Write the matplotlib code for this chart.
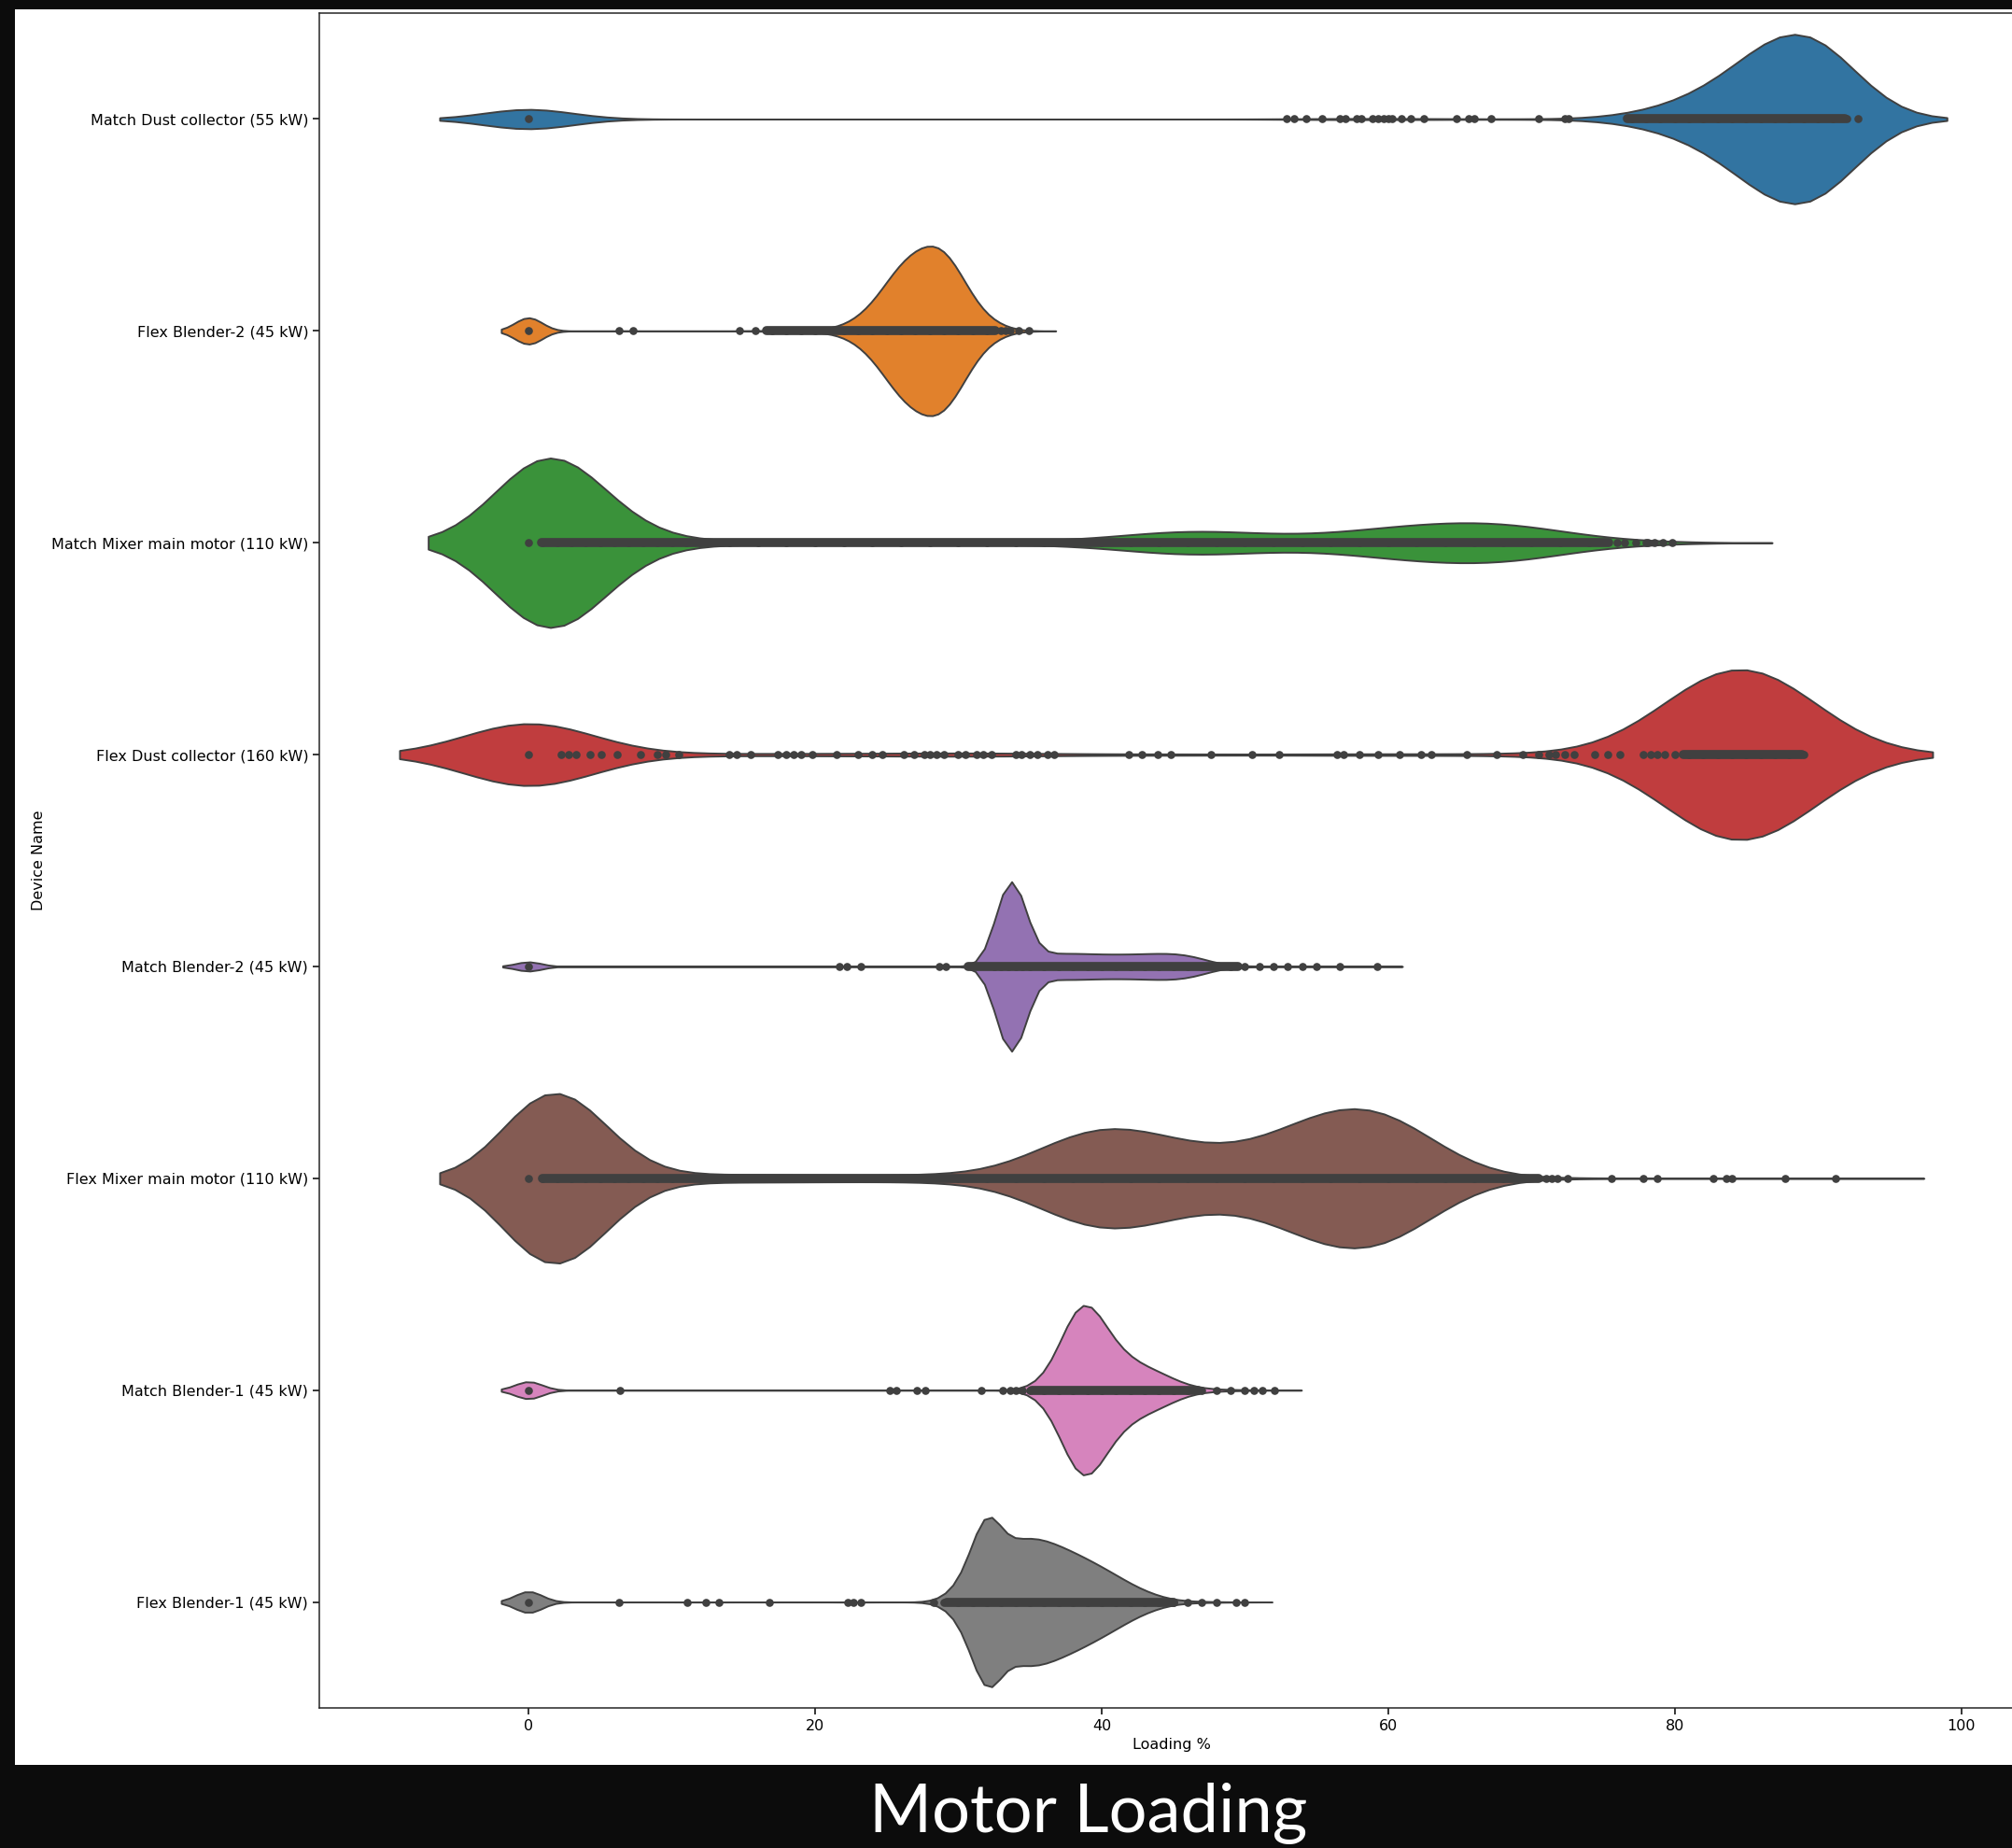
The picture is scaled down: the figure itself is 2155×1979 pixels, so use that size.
import numpy as np
import pandas as pd
import matplotlib
matplotlib.use("Agg")
import matplotlib.pyplot as plt
from matplotlib.patches import Rectangle
import seaborn as sns

devices = ["Match Dust collector (55 kW)", "Flex Blender-2 (45 kW)",
           "Match Mixer main motor (110 kW)", "Flex Dust collector (160 kW)",
           "Match Blender-2 (45 kW)", "Flex Mixer main motor (110 kW)",
           "Match Blender-1 (45 kW)", "Flex Blender-1 (45 kW)"]
colors = ["#1f77b4", "#ff7f0e", "#2ca02c", "#d62728",
          "#9467bd", "#8c564b", "#e377c2", "#7f7f7f"]

# loading readings per device: binned levels + counts, odd readings, solid run of points
md_levels = [0, 77, 78, 79, 80, 81, 82, 83, 84, 85, 86, 87, 88, 89, 90, 91, 92]
md_counts = [200, 15, 20, 30, 40, 50, 65, 85, 115, 160, 210, 260, 300, 330, 340, 290, 150]
md_sparse = [52.9, 53.4, 54.3, 55.4, 56.6, 57.0, 57.8, 58.1, 58.9, 59.3, 59.7, 60.0,
             60.3, 60.9, 61.6, 62.5, 64.8, 65.6, 66.0, 67.2, 70.5, 72.3, 72.6, 92.8]
md_dense = (76.7, 91.9)
md_bw = 3.1

fb2_levels = [0, 17, 18, 19, 20, 21, 22, 23, 24, 25, 26, 27, 28, 29, 30, 31, 32, 33]
fb2_counts = [115, 2, 2, 3, 4, 8, 20, 50, 100, 180, 260, 300, 330, 320, 230, 120, 50, 20]
fb2_sparse = [6.3, 7.3, 14.7, 15.8, 33.3, 33.6, 34.2, 34.9]
fb2_dense = (16.6, 32.6)
fb2_bw = 0.95

mm_levels = [0, 1, 2, 3, 4, 5, 6, 7, 8, 9, 10, 11, 12,
             14, 16, 18, 20, 22, 24, 26, 28, 30, 32, 34, 36, 38,
             40, 42, 44, 46, 48, 50, 52, 54, 56, 58, 60, 62, 64, 66, 68, 70, 72, 74, 76, 78]
mm_counts = [400, 250, 230, 170, 100, 50, 25, 12, 7, 5, 4, 3, 3,
             6, 5, 5, 5, 5, 5, 5, 5, 5, 5, 5, 6, 8,
             12, 24, 36, 44, 42, 30, 22, 20, 26, 38, 50, 58, 64, 68, 68, 56, 34, 16, 7, 3]
mm_sparse = [76.5, 77.3, 78.1, 78.6, 79.2, 79.8]
mm_dense = (0.9, 75.4)
mm_bw = 3.5

fd_levels = [0, 80, 81, 82, 83, 84, 85, 86, 87, 88, 89]
fd_counts = [280, 40, 80, 100, 110, 110, 110, 110, 105, 90, 45]
fd_sparse = [2.3, 2.8, 3.3, 4.3, 5.1, 6.2, 7.8, 9.0, 9.6, 10.5, 14.0, 14.5, 15.5, 17.4,
             18.0, 18.5, 19.0, 19.8, 21.5, 23.0, 24.0, 24.7, 26.2, 26.9, 27.6, 28.0,
             28.5, 29.0, 30.0, 30.5, 31.3, 31.7, 32.3, 34.0, 34.4, 35.0, 35.5, 36.2,
             36.7, 41.9, 42.8, 43.9, 44.8, 47.6, 50.5, 52.4, 56.4, 56.9, 58.0, 59.3,
             60.8, 62.3, 63.0, 65.5, 67.6, 69.4, 70.5, 71.2, 71.7, 72.3, 73.0, 74.4,
             75.3, 76.2, 77.8, 78.3, 78.8, 79.3]
fd_dense = (80.6, 88.9)
fd_bw = 4.5

mb2_levels = [0, 32.5, 33, 33.5, 34, 34.5, 35, 36, 37, 38, 39, 40, 41, 42, 43, 44,
              45, 46, 47, 48, 49, 50, 51, 52, 53, 54, 55]
mb2_counts = [110, 100, 400, 800, 700, 300, 100, 130, 140, 140, 135, 130, 130, 130, 135, 140,
              140, 125, 85, 35, 10, 5, 4, 3, 2, 2, 1]
mb2_sparse = [21.7, 22.2, 23.2, 28.7, 29.1, 56.6, 59.2]
mb2_dense = (30.7, 49.5)
mb2_bw = 0.9

fm_levels = [0, 1, 2, 3, 4, 5, 6, 7, 8, 9, 10,
             12, 14, 16, 18, 20, 22, 24, 26, 28, 30,
             32, 34, 36, 38, 40, 42, 44, 46, 48, 50, 52, 54, 56, 58, 60, 62, 64, 66, 68]
fm_counts = [400, 280, 280, 230, 170, 90, 40, 12, 8, 6, 5,
             18, 16, 15, 15, 14, 14, 13, 13, 14, 18,
             20, 45, 120, 210, 240, 220, 180, 130, 110, 110, 170, 240, 300, 330, 310, 210, 90, 25, 6]
fm_sparse = [71.0, 71.4, 71.8, 72.5, 75.6, 77.8, 78.8, 82.7, 83.6, 84.0, 87.7, 91.2]
fm_dense = (1.0, 70.5)
fm_bw = 3.1

mb1_levels = [0, 35, 36, 37, 38, 39, 40, 41, 42, 43, 44, 45, 46, 47, 48, 49, 50]
mb1_counts = [200, 30, 120, 400, 850, 1000, 700, 450, 320, 240, 190, 110, 50, 20, 10, 6, 4]
mb1_sparse = [6.4, 25.2, 25.7, 27.1, 27.7, 31.6, 33.1, 33.6, 34.0, 34.5, 50.6, 51.2, 52.05]
mb1_dense = (35.1, 46.7)
mb1_bw = 0.95

fb1_levels = [0, 29, 30, 31, 32, 33, 34, 35, 36, 37, 38, 39, 40, 41, 42, 43, 44, 45, 46, 47, 48]
fb1_counts = [220, 30, 150, 400, 1200, 450, 550, 580, 550, 500, 440, 380, 310, 240, 160, 100,
              50, 20, 8, 5, 3]
fb1_sparse = [6.3, 11.1, 12.4, 13.3, 16.8, 22.3, 22.7, 23.2, 28.3, 49.4, 50.0]
fb1_dense = (29.2, 45.0)
fb1_bw = 0.95

levels = [md_levels, fb2_levels, mm_levels, fd_levels, mb2_levels, fm_levels, mb1_levels, fb1_levels]
counts = [md_counts, fb2_counts, mm_counts, fd_counts, mb2_counts, fm_counts, mb1_counts, fb1_counts]
sparse = [md_sparse, fb2_sparse, mm_sparse, fd_sparse, mb2_sparse, fm_sparse, mb1_sparse, fb1_sparse]
dense = [md_dense, fb2_dense, mm_dense, fd_dense, mb2_dense, fm_dense, mb1_dense, fb1_dense]
bws = [md_bw, fb2_bw, mm_bw, fd_bw, mb2_bw, fm_bw, mb1_bw, fb1_bw]

fig = plt.figure(figsize=(21.55, 19.79), dpi=100, facecolor="#0c0c0c")
fig.patches.append(Rectangle((0.0074, 0.045), 1.0, 0.95, transform=fig.transFigure,
                             facecolor="white", edgecolor="none", zorder=-5))
# the screenshot is cropped: axes run a little past the right edge
ax = fig.add_axes([0.1587, 0.0758, 0.8474, 0.9171])
ax.set_facecolor("white")

for i, name in enumerate(devices):
    x = np.concatenate([np.repeat(levels[i], counts[i]), sparse[i]])
    df = pd.DataFrame({"Loading %": x, "Device Name": name})
    sns.violinplot(data=df, x="Loading %", y="Device Name", order=devices, orient="h",
                   color=colors[i], inner=None, density_norm="width", cut=2,
                   bw_method=bws[i] / x.std(ddof=1), linewidth=1.4, linecolor=".25", ax=ax)
    pts = np.unique(x)
    ax.plot(dense[i], [i, i], color=".25", lw=7, solid_capstyle="round", zorder=3)
    ax.plot(pts, np.full(len(pts), i), "o", color=".25", ms=6.2, mew=0, zorder=3)

ax.set_xlim(-14.6, 104.4)
ax.set_ylim(7.5, -0.5)
ax.set_xticks([0, 20, 40, 60, 80, 100])
ax.set_yticks(range(len(devices)))
ax.set_yticklabels(devices)
ax.set_xlabel("Loading %", fontsize=11.5)
ax.set_ylabel("Device Name", fontsize=11.5)
ax.tick_params(labelsize=11.5, length=5, width=1.1)
for s in ax.spines.values():
    s.set_linewidth(1.1)
    s.set_color(".15")
ax.spines["right"].set_visible(False)

fig.text(0.541, 1 - 1962 / 1979, "Motor Loading", color="white", fontsize=52,
         family="Lato", ha="center", va="baseline")

fig.savefig("out.png", dpi=100, facecolor=fig.get_facecolor())
